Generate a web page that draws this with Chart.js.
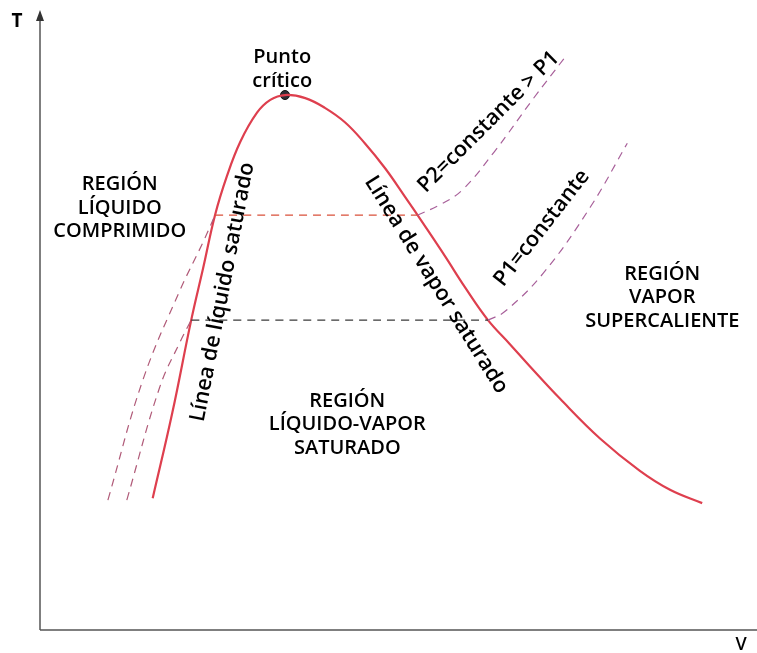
<!DOCTYPE html>
<html>
<head>
<meta charset="utf-8">
<script src="https://cdn.jsdelivr.net/npm/chart.js@4"></script>
<style>
  html, body { margin: 0; padding: 0; background: #fff; }
  #wrap { position: relative; width: 757px; height: 653px; }
</style>
</head>
<body>
<div id="wrap"><canvas id="ChartCanvas"></canvas></div>
<script>
// Saturation dome (v, T) - left branch is saturated liquid, right branch saturated vapor
const domeV = [16.1, 18.9, 21.6, 23.3, 25.0, 26.7, 28.6, 31.0, 32.9, 35.0,
  37.9, 40.7, 43.6, 46.4, 49.3, 52.1, 55.0, 57.9, 60.7, 64.0, 67.1, 70.0, 74.3, 80.0, 85.7, 90.0, 94.6];
const domeT = [21.6, 35.6, 50.8, 59.3, 68.0, 74.4, 80.0, 84.8, 86.9, 87.7,
  87.2, 85.6, 83.2, 79.8, 75.7, 71.1, 66.2, 61.2, 56.2, 50.8, 46.9, 43.2, 37.9, 31.4, 26.1, 23.0, 20.8];

// Critical point
const critV = 35.0;
const critT = 87.7;

// Isobar P2 (higher pressure): compressed liquid, mixture, superheated vapor
const p2LiqV = [9.7, 14.7, 20.0, 23.3, 25.0];
const p2LiqT = [21.3, 41.0, 55.7, 63.6, 68.0];
const p2MixV = [25.0, 53.9];
const p2MixT = [68.0, 68.0];
const p2VapV = [53.9, 57.1, 60.3, 64.9, 70.4, 75.0];
const p2VapT = [68.0, 69.7, 72.1, 78.4, 87.0, 93.9];

// Isobar P1 (lower pressure)
const p1LiqV = [12.4, 17.1, 20.0, 21.6];
const p1LiqT = [21.3, 39.8, 47.2, 50.8];
const p1MixV = [21.6, 64.0];
const p1MixT = [50.8, 50.8];
const p1VapV = [64.0, 66.4, 71.9, 78.6, 83.9];
const p1VapT = [50.8, 52.2, 58.5, 69.3, 79.8];

// Region and line labels
const regionLabels = [
  { lines: ['Punto', 'crítico'], v: 34.6, t: 92.9 },
  { lines: ['REGIÓN', 'LÍQUIDO', 'COMPRIMIDO'], v: 11.4, t: 72.1 },
  { lines: ['REGIÓN', 'VAPOR', 'SUPERCALIENTE'], v: 88.9, t: 57.4 },
  { lines: ['REGIÓN', 'LÍQUIDO-VAPOR', 'SATURADO'], v: 43.9, t: 36.6 }
];
const lineLabels = [
  { text: 'Línea de líquido saturado', v: 26.1, t: 55.4, angle: -79 },
  { text: 'Línea de vapor saturado', v: 56.6, t: 56.6, angle: 58 },
  { text: 'P2=constante > P1', v: 64.1, t: 83.3, angle: -45 },
  { text: 'P1=constante', v: 71.7, t: 65.9, angle: -52 }
];

const toPoints = (vs, ts) => vs.map((v, i) => ({ x: v, y: ts[i] }));

const FONT = '"Open Sans", "Noto Sans", sans-serif';

function dashed(data, color) {
  return {
    data: data,
    showLine: true,
    borderColor: color,
    borderWidth: 1.2,
    borderDash: [8, 6],
    pointRadius: 0,
    tension: 0.4
  };
}

/**
 * Draws the T and v axes with arrow, and all text labels.
 */
const diagramDecor = {
  id: 'diagramDecor',
  afterDraw: chart => {
    const ctx = chart.ctx;
    const area = chart.chartArea;
    const xs = chart.scales.x;
    const ys = chart.scales.y;
    ctx.save();

    // axes
    ctx.strokeStyle = '#555';
    ctx.lineWidth = 1.5;
    ctx.beginPath();
    ctx.moveTo(area.left, area.bottom);
    ctx.lineTo(area.left, area.top);
    ctx.moveTo(area.left, area.bottom);
    ctx.lineTo(chart.width, area.bottom);
    ctx.stroke();

    ctx.fillStyle = '#333';
    ctx.beginPath();
    ctx.moveTo(area.left, area.top - 10);
    ctx.lineTo(area.left - 4, area.top + 1);
    ctx.lineTo(area.left + 4, area.top + 1);
    ctx.closePath();
    ctx.fill();

    ctx.fillStyle = '#000';
    ctx.textAlign = 'center';
    ctx.textBaseline = 'alphabetic';
    ctx.font = 'bold 19px ' + FONT;
    ctx.fillText('T', area.left - 23, area.top + 7);
    ctx.font = '600 18px ' + FONT;
    ctx.fillText('V', area.left + 701, area.bottom + 20);

    // multi-line region labels
    ctx.font = '600 20px ' + FONT;
    regionLabels.forEach(lab => {
      const x = xs.getPixelForValue(lab.v);
      const y = ys.getPixelForValue(lab.t);
      lab.lines.forEach((line, i) => {
        ctx.fillText(line, x, y + i * 23.5);
      });
    });

    // labels running along the curves
    ctx.font = '600 21.5px ' + FONT;
    ctx.textBaseline = 'middle';
    lineLabels.forEach(lab => {
      ctx.save();
      ctx.translate(xs.getPixelForValue(lab.v), ys.getPixelForValue(lab.t));
      ctx.rotate(lab.angle * Math.PI / 180);
      ctx.fillText(lab.text, 0, 0);
      ctx.restore();
    });

    ctx.restore();
  }
};

new Chart(document.getElementById('ChartCanvas'), {
  type: 'scatter',
  data: {
    datasets: [
      dashed(toPoints(p2LiqV, p2LiqT), '#b05a78'),
      dashed(toPoints(p1LiqV, p1LiqT), '#b05a78'),
      dashed(toPoints(p2MixV, p2MixT), '#d9503a'),
      dashed(toPoints(p1MixV, p1MixT), '#3a3a3a'),
      dashed(toPoints(p2VapV, p2VapT), '#a8609a'),
      dashed(toPoints(p1VapV, p1VapT), '#a8609a'),
      {
        data: toPoints(domeV, domeT),
        showLine: true,
        borderColor: '#de3f4e',
        borderWidth: 2.2,
        pointRadius: 0,
        tension: 0.4
      },
      {
        data: [{ x: critV, y: critT }],
        pointRadius: 4.5,
        backgroundColor: '#2d2d33',
        borderColor: '#111',
        borderWidth: 1
      }
    ]
  },
  options: {
    animation: false,
    responsive: true,
    maintainAspectRatio: false,
    layout: { padding: { left: 40, right: 17, top: 20, bottom: 23 } },
    scales: {
      x: { type: 'linear', min: 0, max: 100, display: false },
      y: { type: 'linear', min: 0, max: 100, display: false }
    },
    plugins: {
      legend: { display: false },
      tooltip: { enabled: false }
    }
  },
  plugins: [diagramDecor]
});
</script>
</body>
</html>
